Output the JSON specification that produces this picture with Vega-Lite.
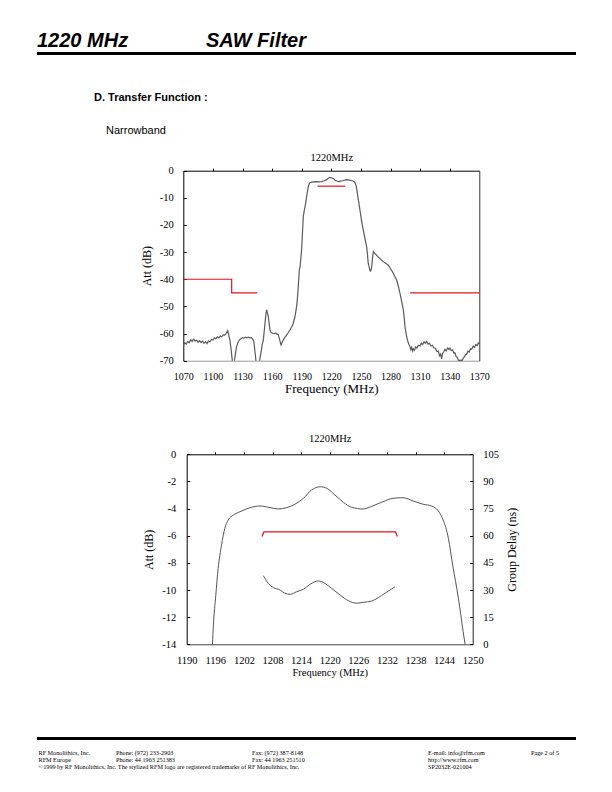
{
  "$schema": "https://vega.github.io/schema/vega-lite/v6.json",
  "width": 612,
  "height": 792,
  "padding": 0,
  "autosize": {"type": "none"},
  "background": "white",
  "config": {
    "view": {"stroke": null},
    "axis": {
      "grid": false,
      "labelFont": "Liberation Serif",
      "titleFont": "Liberation Serif",
      "labelColor": "#000",
      "titleColor": "#000",
      "titleFontWeight": "normal",
      "domainColor": "#000",
      "tickColor": "#000",
      "labelFlush": false,
      "labelOverlap": false,
      "labelExpr": "'' + datum.value",
      "domainWidth": 1,
      "tickWidth": 1
    }
  },
  "datasets": {
    "top": [
      {"f":1070,"a":-64.5,"s":1},{"f":1071.5,"a":-63.4,"s":1},{"f":1073,"a":-63.9,"s":1},{"f":1074.5,"a":-62.9,"s":1},{"f":1076,"a":-63.4,"s":1},{"f":1077.5,"a":-62.3,"s":1},{"f":1079,"a":-62.9,"s":1},{"f":1080.5,"a":-62.0,"s":1},{"f":1082,"a":-62.8,"s":1},{"f":1083.5,"a":-62.4,"s":1},{"f":1085,"a":-63.2,"s":1},{"f":1086.5,"a":-62.6,"s":1},{"f":1088,"a":-63.3,"s":1},{"f":1089.5,"a":-62.8,"s":1},{"f":1091,"a":-63.6,"s":1},{"f":1092.5,"a":-63.0,"s":1},{"f":1094,"a":-63.7,"s":1},{"f":1095.5,"a":-62.7,"s":1},{"f":1097,"a":-63.1,"s":1},{"f":1098.5,"a":-62.2,"s":1},{"f":1100,"a":-62.4,"s":1},{"f":1101.5,"a":-61.6,"s":1},{"f":1103,"a":-61.9,"s":1},{"f":1104.5,"a":-61.2,"s":1},{"f":1106,"a":-61.6,"s":1},{"f":1107.5,"a":-60.9,"s":1},{"f":1109,"a":-61.2,"s":1},{"f":1110.5,"a":-60.5,"s":1},{"f":1112,"a":-60.6,"s":1},{"f":1113.5,"a":-59.9,"s":1},{"f":1115,"a":-58.9,"s":1},{"f":1116,"a":-60.4,"s":1},{"f":1117.3,"a":-62.6,"s":1},{"f":1118.5,"a":-66,"s":1},{"f":1119.7,"a":-70,"s":1},
      {"f":1121.8,"a":-70,"s":2},{"f":1122.8,"a":-67.5,"s":2},{"f":1124,"a":-64.8,"s":2},{"f":1125.5,"a":-63.2,"s":2},{"f":1127,"a":-62.3,"s":2},{"f":1128.5,"a":-61.9,"s":2},{"f":1130,"a":-61.5,"s":2},{"f":1131.5,"a":-61.7,"s":2},{"f":1133,"a":-61.3,"s":2},{"f":1134.5,"a":-61.6,"s":2},{"f":1136,"a":-61.3,"s":2},{"f":1137.5,"a":-61.6,"s":2},{"f":1139,"a":-61.5,"s":2},{"f":1140.5,"a":-62.0,"s":2},{"f":1141.6,"a":-63.2,"s":2},{"f":1142.6,"a":-66.5,"s":2},{"f":1143.6,"a":-70,"s":2},
      {"f":1147.3,"a":-70,"s":3},{"f":1148.5,"a":-67.5,"s":3},{"f":1150,"a":-64,"s":3},{"f":1151.1,"a":-62.4,"s":3},{"f":1152.2,"a":-58.5,"s":3},{"f":1153.1,"a":-55,"s":3},{"f":1154.0,"a":-52.2,"s":3},{"f":1154.5,"a":-51.3,"s":3},{"f":1155.3,"a":-52.3,"s":3},{"f":1156.2,"a":-53.8,"s":3},{"f":1157.2,"a":-57.0,"s":3},{"f":1157.9,"a":-58.7,"s":3},{"f":1159,"a":-59.6,"s":3},{"f":1160.5,"a":-59.9,"s":3},{"f":1162,"a":-60.0,"s":3},{"f":1163.5,"a":-59.8,"s":3},{"f":1165,"a":-60.2,"s":3},{"f":1166.3,"a":-60.4,"s":3},{"f":1167.6,"a":-62.2,"s":3},{"f":1169,"a":-64.2,"s":3},{"f":1170.2,"a":-63.2,"s":3},{"f":1171.3,"a":-62.4,"s":3},{"f":1173,"a":-61.4,"s":3},{"f":1174.6,"a":-60.6,"s":3},{"f":1176.3,"a":-59.7,"s":3},{"f":1178.1,"a":-58.7,"s":3},{"f":1179.8,"a":-57.6,"s":3},{"f":1181.5,"a":-56.2,"s":3},{"f":1183.2,"a":-53.8,"s":3},{"f":1184.2,"a":-51.5,"s":3},{"f":1185.0,"a":-49.5,"s":3},{"f":1185.5,"a":-47.6,"s":3},{"f":1186.2,"a":-44.5,"s":3},{"f":1186.9,"a":-40.5,"s":3},{"f":1187.6,"a":-36.6,"s":3},{"f":1188.3,"a":-35.5,"s":3},{"f":1189.0,"a":-32.9,"s":3},{"f":1189.9,"a":-29.2,"s":3},{"f":1190.7,"a":-23.5,"s":3},{"f":1191.6,"a":-16.9,"s":3},{"f":1192.8,"a":-14.2,"s":3},{"f":1194,"a":-12,"s":3},{"f":1195.3,"a":-8.8,"s":3},{"f":1196.7,"a":-5.9,"s":3},{"f":1197.6,"a":-4.8,"s":3},{"f":1198.4,"a":-4.4,"s":3},{"f":1200,"a":-4.2,"s":3},{"f":1202,"a":-4.1,"s":3},{"f":1205.1,"a":-4.05,"s":3},{"f":1207.5,"a":-4.1,"s":3},{"f":1210.2,"a":-4.0,"s":3},{"f":1212.8,"a":-3.7,"s":3},{"f":1215.3,"a":-3.3,"s":3},{"f":1217,"a":-2.8,"s":3},{"f":1218.6,"a":-2.5,"s":3},{"f":1220.3,"a":-2.6,"s":3},{"f":1222,"a":-2.9,"s":3},{"f":1224,"a":-3.5,"s":3},{"f":1226,"a":-3.9,"s":3},{"f":1227.8,"a":-4.0,"s":3},{"f":1230,"a":-3.8,"s":3},{"f":1232.2,"a":-3.6,"s":3},{"f":1235,"a":-3.3,"s":3},{"f":1237.2,"a":-3.4,"s":3},{"f":1240,"a":-3.6,"s":3},{"f":1242.3,"a":-3.8,"s":3},{"f":1243.8,"a":-4.3,"s":3},{"f":1245.2,"a":-5.6,"s":3},{"f":1246.2,"a":-7.8,"s":3},{"f":1247.2,"a":-10.2,"s":3},{"f":1248.3,"a":-12.8,"s":3},{"f":1249.5,"a":-15.6,"s":3},{"f":1250.8,"a":-18.8,"s":3},{"f":1252.4,"a":-21.9,"s":3},{"f":1254.1,"a":-25.0,"s":3},{"f":1255.8,"a":-28.0,"s":3},{"f":1256.7,"a":-31,"s":3},{"f":1257.4,"a":-34.1,"s":3},{"f":1258.6,"a":-35.8,"s":3},{"f":1259.3,"a":-36.9,"s":3},{"f":1259.9,"a":-37.0,"s":3},{"f":1260.6,"a":-36.2,"s":3},{"f":1261.2,"a":-34.5,"s":3},{"f":1261.8,"a":-32,"s":3},{"f":1262.6,"a":-29.8,"s":3},{"f":1263.4,"a":-30.2,"s":3},{"f":1264.3,"a":-30.5,"s":3},{"f":1266.5,"a":-31.4,"s":3},{"f":1268.6,"a":-32.1,"s":3},{"f":1270.6,"a":-32.8,"s":3},{"f":1272.7,"a":-33.5,"s":3},{"f":1275.2,"a":-34.1,"s":3},{"f":1277.8,"a":-34.8,"s":3},{"f":1280.3,"a":-36.2,"s":3},{"f":1282.8,"a":-37.8,"s":3},{"f":1284.5,"a":-39,"s":3},{"f":1286.2,"a":-40.3,"s":3},{"f":1288,"a":-42.6,"s":3},{"f":1289.6,"a":-45.2,"s":3},{"f":1291.3,"a":-48.1,"s":3},{"f":1293,"a":-51.3,"s":3},{"f":1294.0,"a":-54.5,"s":3},{"f":1294.7,"a":-57.5,"s":3},{"f":1295.6,"a":-59.6,"s":3},{"f":1296.4,"a":-61.2,"s":3},{"f":1298,"a":-63.4,"s":3},{"f":1299.7,"a":-64.8,"s":3},{"f":1300.5,"a":-65.9,"s":3},{"f":1301.4,"a":-65.1,"s":3},{"f":1302.3,"a":-66.4,"s":3},{"f":1303.1,"a":-65.6,"s":3},{"f":1304.2,"a":-66.2,"s":3},{"f":1305.5,"a":-64.9,"s":3},{"f":1306.8,"a":-65.4,"s":3},{"f":1308.1,"a":-64.3,"s":3},{"f":1309.9,"a":-64.6,"s":3},{"f":1311.2,"a":-63.5,"s":3},{"f":1312.5,"a":-64.1,"s":3},{"f":1314,"a":-63.0,"s":3},{"f":1315.3,"a":-63.6,"s":3},{"f":1316.6,"a":-62.9,"s":3},{"f":1318,"a":-63.9,"s":3},{"f":1319.5,"a":-63.6,"s":3},{"f":1321,"a":-64.6,"s":3},{"f":1322.5,"a":-64.3,"s":3},{"f":1324,"a":-65.3,"s":3},{"f":1325.5,"a":-65.4,"s":3},{"f":1327,"a":-66.6,"s":3},{"f":1328.4,"a":-66.5,"s":3},{"f":1329.8,"a":-68.2,"s":3},{"f":1330.8,"a":-67.6,"s":3},{"f":1331.8,"a":-69.3,"s":3},{"f":1332.8,"a":-67.3,"s":3},{"f":1334,"a":-66.7,"s":3},{"f":1335.2,"a":-65.8,"s":3},{"f":1336.5,"a":-66.4,"s":3},{"f":1338,"a":-65.3,"s":3},{"f":1339.3,"a":-65.9,"s":3},{"f":1340.3,"a":-65.3,"s":3},{"f":1341.6,"a":-66.3,"s":3},{"f":1343,"a":-66.0,"s":3},{"f":1344.2,"a":-67.2,"s":3},{"f":1345.3,"a":-67.1,"s":3},{"f":1346.5,"a":-68.5,"s":3},{"f":1347.6,"a":-68.7,"s":3},{"f":1348.7,"a":-69.8,"s":3},{"f":1350,"a":-69.9,"s":3},{"f":1351.5,"a":-69.8,"s":3},{"f":1352.7,"a":-69.9,"s":3},{"f":1353.8,"a":-69.0,"s":3},{"f":1355,"a":-68.5,"s":3},{"f":1356,"a":-67.8,"s":3},{"f":1357.2,"a":-67.6,"s":3},{"f":1358.5,"a":-66.5,"s":3},{"f":1359.8,"a":-66.8,"s":3},{"f":1361,"a":-65.6,"s":3},{"f":1362.3,"a":-65.8,"s":3},{"f":1363.9,"a":-64.6,"s":3},{"f":1365.2,"a":-65.1,"s":3},{"f":1366.5,"a":-64.0,"s":3},{"f":1368,"a":-64.4,"s":3},{"f":1369,"a":-63.4,"s":3},{"f":1370,"a":-63.8,"s":3}
    ],
    "topSpec": [
      {"f":1070,"a":-40,"s":"L"},{"f":1119,"a":-40,"s":"L"},{"f":1119.05,"a":-45,"s":"L"},{"f":1145,"a":-45,"s":"L"},
      {"f":1206,"a":-5.7,"s":"P"},{"f":1234,"a":-5.7,"s":"P"},
      {"f":1300,"a":-45,"s":"R"},{"f":1370,"a":-45,"s":"R"}
    ],
    "botAtt": [
      {"f":1195.4,"a":-14},{"f":1195.6,"a":-12.6},{"f":1196.1,"a":-10.4},{"f":1196.6,"a":-8.4},{"f":1197.3,"a":-6.7},{"f":1198,"a":-5.45},{"f":1198.7,"a":-4.84},{"f":1199.8,"a":-4.47},{"f":1201.2,"a":-4.23},{"f":1203.3,"a":-3.93},{"f":1205.4,"a":-3.81},{"f":1207.5,"a":-3.93},{"f":1209.2,"a":-4.03},{"f":1211,"a":-3.93},{"f":1212.7,"a":-3.68},{"f":1214.5,"a":-3.24},{"f":1216.2,"a":-2.63},{"f":1218,"a":-2.39},{"f":1219.4,"a":-2.51},{"f":1221.1,"a":-3.0},{"f":1222.9,"a":-3.54},{"f":1224.6,"a":-3.91},{"f":1227,"a":-4.03},{"f":1229.1,"a":-3.79},{"f":1231.2,"a":-3.49},{"f":1233.3,"a":-3.24},{"f":1235.4,"a":-3.2},{"f":1237.5,"a":-3.44},{"f":1239.6,"a":-3.68},{"f":1241.4,"a":-3.81},{"f":1242.8,"a":-4.18},{"f":1243.8,"a":-4.84},{"f":1244.9,"a":-6.19},{"f":1245.8,"a":-8.16},{"f":1247,"a":-10.61},{"f":1248,"a":-13.07},{"f":1248.4,"a":-14}
    ],
    "botSpec": [
      {"f":1205.8,"a":-6.05},{"f":1206.2,"a":-5.72},{"f":1233.8,"a":-5.72},{"f":1234.2,"a":-6.05}
    ],
    "botGD": [
      {"f":1206.1,"g":37.9},{"f":1207.1,"g":33.7},{"f":1208.2,"g":31.3},{"f":1209.6,"g":30.0},{"f":1210.6,"g":28.2},{"f":1211.7,"g":27.6},{"f":1213.1,"g":29.1},{"f":1214.5,"g":30.4},{"f":1215.9,"g":33.2},{"f":1217.6,"g":35.0},{"f":1219,"g":33.7},{"f":1220.4,"g":30.9},{"f":1222.2,"g":27.2},{"f":1223.9,"g":24.1},{"f":1225.7,"g":22.7},{"f":1227,"g":23.2},{"f":1228.8,"g":23.9},{"f":1230.2,"g":25.8},{"f":1231.6,"g":28.2},{"f":1233,"g":30.6},{"f":1233.7,"g":31.8}
    ],
    "head": [
      {"t":"1220 MHz","c":0,"r":0},{"t":"SAW Filter","c":5,"r":0}
    ],
    "section": [{"t":"D. Transfer Function :","c":2,"r":2}],
    "sub": [{"t":"Narrowband","c":3,"r":3}],
    "rules": [{"c":0,"c2":9,"r":1},{"c":0,"c2":9,"r":4}],
    "footer": [
      {"t":"RF Monolithics, Inc.","c":1,"r":5},
      {"t":"Phone: (972) 233-2903","c":4,"r":5},
      {"t":"Fax: (972) 387-8148","c":6,"r":5},
      {"t":"E-mail: info@rfm.com","c":7,"r":5},
      {"t":"Page 2 of 5","c":8,"r":5},
      {"t":"RFM Europe","c":1,"r":6},
      {"t":"Phone:  44 1963 251383","c":4,"r":6},
      {"t":"Fax:  44 1963 251510","c":6,"r":6},
      {"t":"http://www.rfm.com","c":7,"r":6},
      {"t":"©1999 by RF Monolithics, Inc.  The stylized RFM logo are registered trademarks of RF Monolithics, Inc.","c":1,"r":7},
      {"t":"SP2032E-021004","c":7,"r":7}
    ]
  },
  "layer": [
    {
      "data": {"name": "rules"},
      "mark": {"type": "rule", "color": "#000", "strokeWidth": 3},
      "encoding": {
        "x": {"field": "c", "type": "quantitative", "axis": null, "scale": {"domain": [0,1,2,3,4,5,6,7,8,9], "range": [37,38.5,94,106,116,206,252,428,531,576], "nice": false, "zero": false}},
        "x2": {"field": "c2"},
        "y": {"field": "r", "type": "quantitative", "axis": null, "scale": {"domain": [0,1,2,3,4,5,6,7], "range": [47,53.5,101,134,738.5,755,762,769], "nice": false, "zero": false}}
      }
    },
    {
      "data": {"name": "head"},
      "mark": {"type": "text", "font": "Liberation Sans", "fontWeight": "bold", "fontStyle": "italic", "fontSize": 20, "align": "left", "baseline": "alphabetic", "color": "#000"},
      "encoding": {
        "x": {"field": "c", "type": "quantitative", "axis": null, "scale": {"domain": [0,1,2,3,4,5,6,7,8,9], "range": [37,38.5,94,106,116,206,252,428,531,576], "nice": false, "zero": false}},
        "y": {"field": "r", "type": "quantitative", "axis": null, "scale": {"domain": [0,1,2,3,4,5,6,7], "range": [47,53.5,101,134,738.5,755,762,769], "nice": false, "zero": false}},
        "text": {"field": "t"}
      }
    },
    {
      "data": {"name": "section"},
      "mark": {"type": "text", "font": "Liberation Sans", "fontWeight": "bold", "fontSize": 11, "align": "left", "baseline": "alphabetic", "color": "#000"},
      "encoding": {
        "x": {"field": "c", "type": "quantitative", "axis": null, "scale": {"domain": [0,1,2,3,4,5,6,7,8,9], "range": [37,38.5,94,106,116,206,252,428,531,576], "nice": false, "zero": false}},
        "y": {"field": "r", "type": "quantitative", "axis": null, "scale": {"domain": [0,1,2,3,4,5,6,7], "range": [47,53.5,101,134,738.5,755,762,769], "nice": false, "zero": false}},
        "text": {"field": "t"}
      }
    },
    {
      "data": {"name": "sub"},
      "mark": {"type": "text", "font": "Liberation Sans", "fontSize": 11, "align": "left", "baseline": "alphabetic", "color": "#000"},
      "encoding": {
        "x": {"field": "c", "type": "quantitative", "axis": null, "scale": {"domain": [0,1,2,3,4,5,6,7,8,9], "range": [37,38.5,94,106,116,206,252,428,531,576], "nice": false, "zero": false}},
        "y": {"field": "r", "type": "quantitative", "axis": null, "scale": {"domain": [0,1,2,3,4,5,6,7], "range": [47,53.5,101,134,738.5,755,762,769], "nice": false, "zero": false}},
        "text": {"field": "t"}
      }
    },
    {
      "data": {"name": "footer"},
      "mark": {"type": "text", "font": "Liberation Serif", "fontSize": 6.2, "align": "left", "baseline": "alphabetic", "color": "#000"},
      "encoding": {
        "x": {"field": "c", "type": "quantitative", "axis": null, "scale": {"domain": [0,1,2,3,4,5,6,7,8,9], "range": [37,38.5,94,106,116,206,252,428,531,576], "nice": false, "zero": false}},
        "y": {"field": "r", "type": "quantitative", "axis": null, "scale": {"domain": [0,1,2,3,4,5,6,7], "range": [47,53.5,101,134,738.5,755,762,769], "nice": false, "zero": false}},
        "text": {"field": "t"}
      }
    },
    {
      "data": {"name": "top"},
      "mark": {"type": "line", "color": "#5a5a5a", "strokeWidth": 1.2},
      "encoding": {
        "x": {"field": "f", "type": "quantitative",
          "scale": {"domain": [1070, 1370], "range": [183.3, 479.3], "nice": false, "zero": false},
          "axis": {"orient": "bottom", "offset": -431.3, "values": [1070,1100,1130,1160,1190,1220,1250,1280,1310,1340,1370], "ticks": false, "tickSize": 0, "domainColor": "#999", "labelPadding": 11, "labelFontSize": 10, "title": "Frequency (MHz)", "titleFontSize": 13, "titlePadding": 1}},
        "y": {"field": "a", "type": "quantitative",
          "scale": {"domain": [-70, 0], "range": [360.7, 170.7], "nice": false, "zero": false},
          "axis": {"orient": "left", "offset": -183.3, "values": [-70,-60,-50,-40,-30,-20,-10,0], "tickSize": -3, "labelPadding": 13, "labelFontSize": 10.5, "title": "Att (dB)", "titleFontSize": 12, "titlePadding": 6}},
        "detail": {"field": "s", "type": "nominal"}
      }
    },
    {
      "data": {"name": "topSpec"},
      "mark": {"type": "line", "color": "#e8101c", "strokeWidth": 1.2},
      "encoding": {
        "x": {"field": "f", "type": "quantitative",
          "scale": {"domain": [1070, 1370], "range": [183.3, 479.3], "nice": false, "zero": false},
          "axis": {"orient": "top", "offset": -170.7, "values": [1100,1130,1160,1190,1220,1250,1280,1310,1340], "labels": false, "tickSize": 2.5, "title": "1220MHz", "titleFontSize": 10.5, "titlePadding": 5}},
        "y": {"field": "a", "type": "quantitative",
          "scale": {"domain": [-70, 0], "range": [360.7, 170.7], "nice": false, "zero": false},
          "axis": {"orient": "right", "offset": -132.7, "labels": false, "ticks": false, "domainColor": "#333", "title": null}},
        "detail": {"field": "s", "type": "nominal"}
      }
    },
    {
      "data": {"name": "botAtt"},
      "mark": {"type": "line", "color": "#555", "strokeWidth": 1, "interpolate": "monotone"},
      "encoding": {
        "x": {"field": "f", "type": "quantitative",
          "scale": {"domain": [1190, 1250], "range": [186.7, 472.7], "nice": false, "zero": false},
          "axis": {"orient": "bottom", "offset": -147.7, "values": [1190,1196,1202,1208,1214,1220,1226,1232,1238,1244,1250], "ticks": false, "tickSize": 0, "domainColor": "#444", "labelPadding": 11, "labelFontSize": 10.5, "title": "Frequency (MHz)", "titleFontSize": 10.5, "titlePadding": 2}},
        "y": {"field": "a", "type": "quantitative",
          "scale": {"domain": [-14, 0], "range": [644.3, 454.3], "nice": false, "zero": false},
          "axis": {"orient": "left", "offset": -186.7, "values": [-14,-12,-10,-8,-6,-4,-2,0], "tickSize": -3, "labelPadding": 14, "labelFontSize": 10.5, "title": "Att (dB)", "titleFontSize": 12, "titlePadding": 6}}
      }
    },
    {
      "data": {"name": "botSpec"},
      "mark": {"type": "line", "color": "#e8101c", "strokeWidth": 1.2},
      "encoding": {
        "x": {"field": "f", "type": "quantitative",
          "scale": {"domain": [1190, 1250], "range": [186.7, 472.7], "nice": false, "zero": false},
          "axis": {"orient": "top", "offset": -454.3, "values": [1196,1202,1208,1214,1220,1226,1232,1238,1244], "labels": false, "tickSize": 2.5, "title": "1220MHz", "titleFontSize": 10.5, "titlePadding": 8}},
        "y": {"field": "a", "type": "quantitative",
          "scale": {"domain": [-14, 0], "range": [644.3, 454.3], "nice": false, "zero": false},
          "axis": null}
      }
    },
    {
      "data": {"name": "botGD"},
      "mark": {"type": "line", "color": "#555", "strokeWidth": 1, "interpolate": "monotone"},
      "encoding": {
        "x": {"field": "f", "type": "quantitative",
          "scale": {"domain": [1190, 1250], "range": [186.7, 472.7], "nice": false, "zero": false},
          "axis": null},
        "y": {"field": "g", "type": "quantitative",
          "scale": {"domain": [0, 105], "range": [644.3, 454.3], "nice": false, "zero": false},
          "axis": {"orient": "right", "offset": -139.3, "values": [0,15,30,45,60,75,90,105], "tickSize": -3, "labelPadding": 13, "labelFontSize": 10.5, "domainColor": "#222", "title": "Group Delay (ns)", "titleFontSize": 12, "titleAngle": 270, "titleBaseline": "top", "titlePadding": 8}}
      }
    }
  ],
  "resolve": {"scale": {"x": "independent", "y": "independent"}}
}
